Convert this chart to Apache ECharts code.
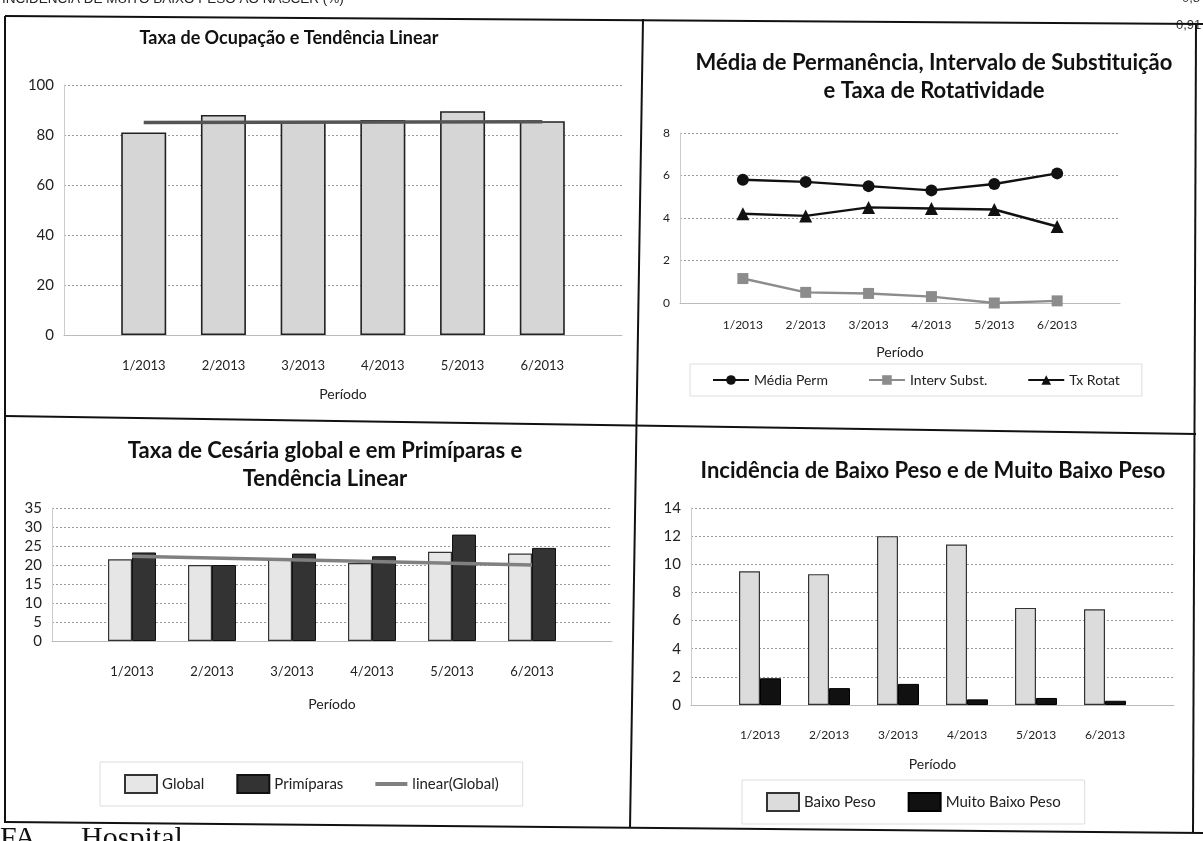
<!DOCTYPE html>
<html><head><meta charset="utf-8">
<script src="https://cdn.jsdelivr.net/npm/echarts@6/dist/echarts.min.js"></script>
<style>html,body{margin:0;padding:0;background:#fff;overflow:hidden}#c{width:1203px;height:841px}</style>
</head><body><div id="c"></div>
<script>
// ---- data ----
const periods = ['1/2013', '2/2013', '3/2013', '4/2013', '5/2013', '6/2013'];
const ocupacao = [81, 88, 85.5, 86, 89.5, 85.5];
const ocupacaoTrend = [85, 85.3];          // linear trend at 1/2013 and 6/2013
const mediaPerm = [5.8, 5.7, 5.5, 5.3, 5.6, 6.1];
const intervSubst = [1.15, 0.5, 0.45, 0.3, 0.0, 0.1];
const txRotat = [4.2, 4.1, 4.5, 4.45, 4.4, 3.6];
const cesGlobal = [21.5, 20, 21.5, 20.5, 23.5, 23];
const cesPrimiparas = [23.3, 20, 23, 22.3, 28, 24.5];
const cesTrend = [22.3, 20];               // linear(Global) at 1/2013 and 6/2013
const baixoPeso = [9.5, 9.3, 12, 11.4, 6.9, 6.8];
const muitoBaixoPeso = [1.9, 1.2, 1.5, 0.4, 0.5, 0.3];
const yOcup = [0, 100, 20];
const yPerm = [0, 8, 2];
const yCes = [0, 35, 5];
const yPeso = [0, 14, 2];

const pts = arr => arr.map((v, i) => [i + 1, v]);
const ends = arr => [[1, arr[0]], [periods.length, arr[1]]];

const FONT = 'Lato, "Open Sans", sans-serif';
const gridLine = { show: true, lineStyle: { color: '#9a9a9a', type: [2, 2], width: 1 } };

function xAx(gi, fs, margin, gap) {
  return {
    type: 'value', gridIndex: gi, min: 0, max: periods.length + 1, interval: 1,
    axisLabel: { formatter: v => periods[v - 1] || '', fontFamily: FONT, fontSize: fs, color: '#222', margin: margin, showMinLabel: false, showMaxLabel: false },
    axisLine: { show: true, lineStyle: { color: '#bbb' } }, axisTick: { show: false }, splitLine: { show: false },
    name: 'Período', nameLocation: 'middle', nameGap: gap,
    nameTextStyle: { fontFamily: FONT, fontSize: 14, color: '#222' }
  };
}
function yAx(gi, r, fs) {
  return {
    type: 'value', gridIndex: gi, min: r[0], max: r[1], interval: r[2],
    axisLabel: { fontFamily: FONT, fontSize: fs, color: '#222', margin: 10 },
    axisLine: { show: true, lineStyle: { color: '#ccc' } }, axisTick: { show: false },
    splitLine: gridLine
  };
}
const tSmall = { fontFamily: FONT, fontWeight: 'bold', fontSize: 18, color: '#111', lineHeight: 26 };
const tBig = { fontFamily: FONT, fontWeight: 'bold', fontSize: 22, color: '#111', lineHeight: 28 };
const lineIcon = 'path://M0,0 L40,0 L40,5 L0,5 Z';

const chart = echarts.init(document.getElementById('c'), null, { renderer: 'canvas' });
chart.setOption({
  backgroundColor: '#fff',
  animation: false,
  title: [
    { text: 'Taxa de Ocupação e Tendência Linear', left: 284, top: 20, textAlign: 'center', textStyle: tSmall },
    { text: 'Média de Permanência, Intervalo de Substituição\ne Taxa de Rotatividade', left: 929, top: 44, textAlign: 'center', textStyle: tBig },
    { text: 'Taxa de Cesária global e em Primíparas e\nTendência Linear', left: 320, top: 432, textAlign: 'center', textStyle: tBig },
    { text: 'Incidência de Baixo Peso e de Muito Baixo Peso', left: 928, top: 452, textAlign: 'center', textStyle: tBig }
  ],
  grid: [
    { left: 64, top: 85, width: 558, height: 250 },
    { left: 680, top: 133, width: 440, height: 170 },
    { left: 52, top: 508, width: 560, height: 133 },
    { left: 691, top: 508, width: 483, height: 197 }
  ],
  xAxis: [xAx(0, 13, 24, 52), xAx(1, 12, 16, 42), xAx(2, 13, 24, 56), xAx(3, 12, 24, 52)],
  yAxis: [yAx(0, yOcup, 15), yAx(1, yPerm, 12), yAx(2, yCes, 15), yAx(3, yPeso, 15)],
  legend: [
    { left: 690, top: 364, padding: [9, 22], itemGap: 40, itemWidth: 36, itemHeight: 12,
      borderColor: '#ddd', borderWidth: 1,
      textStyle: { fontFamily: FONT, fontSize: 14, color: '#222' },
      data: ['Média Perm', 'Interv Subst.', 'Tx Rotat'] },
    { left: 100, top: 762, padding: [12, 24], itemGap: 32, itemWidth: 32, itemHeight: 18,
      borderColor: '#ddd', borderWidth: 1,
      textStyle: { fontFamily: FONT, fontSize: 15, color: '#222' },
      data: [{ name: 'Global', icon: 'rect' }, { name: 'Primíparas', icon: 'rect' }, { name: 'linear(Global)', icon: lineIcon }] },
    { left: 742, top: 780, padding: [12, 24], itemGap: 32, itemWidth: 32, itemHeight: 18,
      borderColor: '#ddd', borderWidth: 1,
      textStyle: { fontFamily: FONT, fontSize: 15, color: '#222' },
      data: [{ name: 'Baixo Peso', icon: 'rect' }, { name: 'Muito Baixo Peso', icon: 'rect' }] }
  ],
  series: [
    { type: 'bar', xAxisIndex: 0, yAxisIndex: 0, data: pts(ocupacao), barWidth: 45,
      itemStyle: { color: '#d6d6d6', borderColor: '#222', borderWidth: 1.6 } },
    { type: 'line', xAxisIndex: 0, yAxisIndex: 0, data: ends(ocupacaoTrend), symbol: 'none', z: 5,
      lineStyle: { color: '#555', width: 3.5 } },

    { name: 'Média Perm', type: 'line', xAxisIndex: 1, yAxisIndex: 1, data: pts(mediaPerm),
      symbol: 'circle', symbolSize: 12, color: '#111', lineStyle: { color: '#111', width: 2.5 } },
    { name: 'Interv Subst.', type: 'line', xAxisIndex: 1, yAxisIndex: 1, data: pts(intervSubst),
      symbol: 'rect', symbolSize: 11, color: '#8c8c8c', lineStyle: { color: '#8c8c8c', width: 2.5 } },
    { name: 'Tx Rotat', type: 'line', xAxisIndex: 1, yAxisIndex: 1, data: pts(txRotat),
      symbol: 'triangle', symbolSize: 13, color: '#111', lineStyle: { color: '#111', width: 2.5 } },

    { name: 'Global', type: 'bar', xAxisIndex: 2, yAxisIndex: 2, data: pts(cesGlobal), barWidth: 24, barGap: '0%',
      color: '#e6e6e6', itemStyle: { color: '#e6e6e6', borderColor: '#333', borderWidth: 1.2 } },
    { name: 'Primíparas', type: 'bar', xAxisIndex: 2, yAxisIndex: 2, data: pts(cesPrimiparas), barWidth: 24, barGap: '0%',
      color: '#333', itemStyle: { color: '#333', borderColor: '#111', borderWidth: 1 } },
    { name: 'linear(Global)', type: 'line', xAxisIndex: 2, yAxisIndex: 2, data: ends(cesTrend), symbol: 'none', z: 5,
      color: '#808080', lineStyle: { color: '#808080', width: 3.5 } },

    { name: 'Baixo Peso', type: 'bar', xAxisIndex: 3, yAxisIndex: 3, data: pts(baixoPeso), barWidth: 21, barGap: '0%',
      color: '#dcdcdc', itemStyle: { color: '#dcdcdc', borderColor: '#333', borderWidth: 1.2 } },
    { name: 'Muito Baixo Peso', type: 'bar', xAxisIndex: 3, yAxisIndex: 3, data: pts(muitoBaixoPeso), barWidth: 21, barGap: '0%',
      color: '#111', itemStyle: { color: '#111', borderColor: '#000', borderWidth: 1 } }
  ],
  graphic: [
    { type: 'text', left: 2, top: -8, style: { text: 'INCIDÊNCIA DE MUITO BAIXO PESO AO NASCER (%)', font: '13.5px "Liberation Sans", Arial, sans-serif', fill: '#222' } },
    { type: 'text', left: 1182, top: -8, style: { text: '0,8', font: '13px "Liberation Sans", Arial, sans-serif', fill: '#333' } },
    { type: 'text', left: 1176, top: 19, style: { text: '0,91', font: '13px "Liberation Sans", Arial, sans-serif', fill: '#333' } },
    { type: 'text', left: 0, top: 824, style: { text: 'FA      Hospital', font: '30px "Liberation Serif", serif', fill: '#111' } },
    // table borders
    { type: 'line', shape: { x1: 5, y1: 16, x2: 1203, y2: 24 }, style: { stroke: '#111', lineWidth: 2.2 } },
    { type: 'line', shape: { x1: 5, y1: 16, x2: 5, y2: 823 }, style: { stroke: '#111', lineWidth: 2 } },
    { type: 'line', shape: { x1: 643, y1: 19, x2: 630, y2: 828 }, style: { stroke: '#111', lineWidth: 2 } },
    { type: 'line', shape: { x1: 5, y1: 416, x2: 1196, y2: 434 }, style: { stroke: '#111', lineWidth: 2 } },
    { type: 'line', shape: { x1: 5, y1: 822, x2: 1203, y2: 833 }, style: { stroke: '#111', lineWidth: 2 } },
    { type: 'line', shape: { x1: 1196, y1: 24, x2: 1193, y2: 833 }, style: { stroke: '#111', lineWidth: 2 } }
  ]
});
</script></body></html>
